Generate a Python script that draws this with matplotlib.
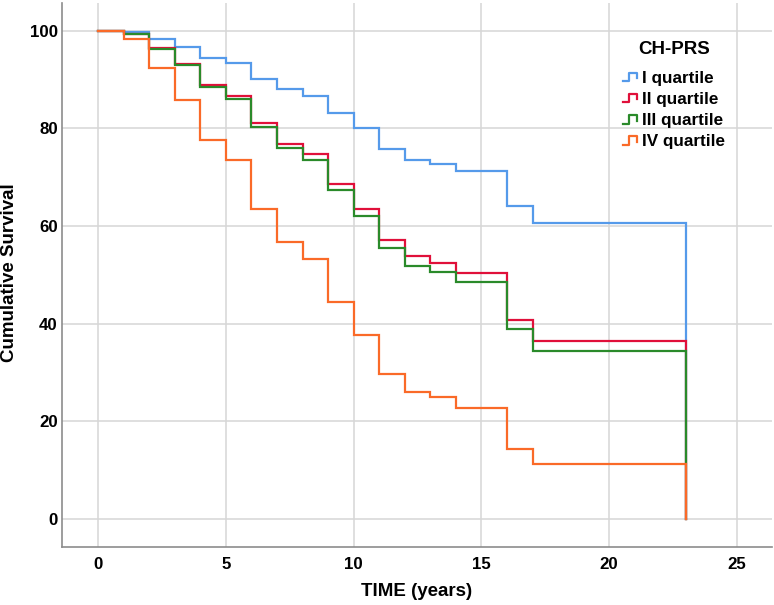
import matplotlib
matplotlib.use("Agg")
import matplotlib.pyplot as plt
from matplotlib.legend_handler import HandlerBase
from matplotlib.lines import Line2D

# ---- data ----
times = [0, 1, 2, 3, 4, 5, 6, 7, 8, 9, 10, 11, 12, 13, 14, 16, 17, 23]
q1 = [100, 99.8, 98.4, 96.7, 94.5, 93.4, 90.2, 88.0, 86.6, 83.1, 80.0, 75.8, 73.5, 72.7, 71.3, 64.1, 60.6, 0]
q2 = [100, 99.4, 96.5, 93.3, 89.0, 86.7, 81.1, 76.9, 74.7, 68.7, 63.6, 57.2, 53.8, 52.4, 50.3, 40.8, 36.5, 0]
q3 = [100, 99.3, 96.2, 92.9, 88.4, 86.1, 80.2, 75.9, 73.5, 67.3, 62.1, 55.5, 51.9, 50.5, 48.6, 38.9, 34.4, 0]
q4 = [100, 98.4, 92.3, 85.8, 77.7, 73.6, 63.5, 56.8, 53.2, 44.5, 37.6, 29.8, 26.1, 24.9, 22.8, 14.4, 11.2, 0]

series = [q1, q2, q3, q4]
labels = ["I quartile", "II quartile", "III quartile", "IV quartile"]
legend_title = "CH-PRS"
colors = ["#559AEA", "#E0103A", "#2A8A2A", "#FA6A28"]
xticks = [0, 5, 10, 15, 20, 25]
yticks = [0, 20, 40, 60, 80, 100]

plt.rcParams['font.family'] = ['Liberation Sans', 'DejaVu Sans']
plt.rcParams['font.weight'] = 'bold'

fig = plt.figure(figsize=(7.74, 6.05), dpi=100)
ax = fig.add_axes([62/774, 58/605, (772-62)/774, (547-3)/605])

lines = []
for vals, lab, c in zip(series, labels, colors):
    ln, = ax.step(times, vals, where='post', color=c, lw=1.6, label=lab,
                  solid_joinstyle='miter')
    lines.append(ln)

ax.set_xlim(-1.41, 26.37)
ax.set_ylim(-5.74, 105.7)
ax.set_xticks(xticks)
ax.set_yticks(yticks)
ax.grid(True, color='#d6d6d6', lw=1.1)
ax.set_axisbelow(True)
for s in ['top', 'right']:
    ax.spines[s].set_visible(False)
for s in ['left', 'bottom']:
    ax.spines[s].set_color('#8c8c8c')
    ax.spines[s].set_linewidth(1.2)
ax.tick_params(length=0, labelsize=12.2)
ax.tick_params(axis='x', pad=7)
ax.tick_params(axis='y', pad=3)
for t in ax.get_xticklabels() + ax.get_yticklabels():
    t.set_fontweight('bold')

ax.set_xlabel("TIME (years)", fontsize=13.5, fontweight='bold')
ax.set_ylabel("Cumulative Survival", fontsize=13.5, fontweight='bold')
ax.xaxis.label.set_va('center')
ax.yaxis.label.set_va('center')
ax.xaxis.set_label_coords((417 - 62) / 710, (547 - 591.5) / 544)
ax.yaxis.set_label_coords((10 - 62) / 710, (547 - 273) / 544)


class StepHandler(HandlerBase):
    def create_artists(self, legend, orig_handle, xdescent, ydescent, width,
                       height, fontsize, trans):
        lo = -ydescent + 0.15 * height
        hi = -ydescent + 0.85 * height
        xs = [-xdescent, -xdescent + 0.35 * width, -xdescent + 0.35 * width,
              -xdescent + 0.8 * width, -xdescent + 0.8 * width]
        ys = [lo, lo, hi, hi, lo + 0.25 * height]
        l = Line2D(xs, ys, color=orig_handle.get_color(), lw=1.6,
                   transform=trans)
        return [l]


fig.text(674/774, 1 - 49/605, legend_title, ha='center', va='center',
         fontsize=13.5, fontweight='bold')

leg = ax.legend(handles=lines, labels=labels,
                handler_map={Line2D: StepHandler()},
                loc='upper left', bbox_to_anchor=(623/774, 1 - 71/605),
                bbox_transform=fig.transFigure, frameon=False,
                borderpad=0, borderaxespad=0, handlelength=1.0,
                handletextpad=0.1, labelspacing=0.36,
                prop={'weight': 'bold', 'size': 12.3})

fig.savefig("out.png", dpi=100)
